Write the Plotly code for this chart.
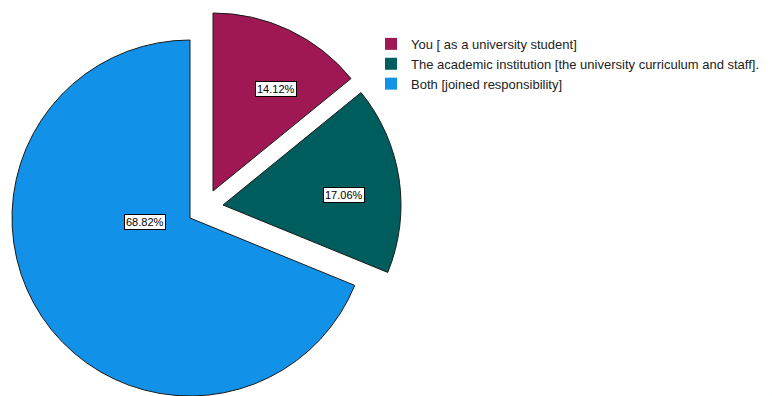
import math
import plotly.graph_objects as go

# ---- data ----
labels = [
    "You [ as a university student]",
    "The academic institution [the university curriculum and staff].",
    "Both [joined responsibility]",
]
values = [14.12, 17.06, 68.82]
value_text = ["14.12%", "17.06%", "68.82%"]

# ---- style ----
colors = ["#9f1853", "#005d5d", "#1192e8"]
W, H = 772, 396
R = 178                 # pie radius in px
CX, CY = 190, 218       # pie centre in px
explode = [(23, -27), (33, -13), (0, 0)]          # per-slice explode offset (px)
label_place = [(0.66, 4.4), (0.68, -3.7), (0.37, -30.0)]  # radial frac, angle nudge (deg)
FONT = "Liberation Sans, Arial, sans-serif"

total = sum(values)
fig = go.Figure()

# legend carrier (tiny, invisible pie holding the correct colours)
fig.add_trace(go.Pie(
    labels=labels, values=values, sort=False, direction="clockwise",
    marker=dict(colors=colors, line=dict(color="#1a1a1a", width=0)),
    textinfo="none", hoverinfo="skip",
    domain=dict(x=[0.9995, 1.0], y=[0.0, 0.0005]),
    showlegend=True,
))

annotations = []
start = 90.0
for i, v in enumerate(values):
    dx, dy = explode[i]
    cx, cy = CX + dx, CY + dy
    cols = ["rgba(0,0,0,0)"] * len(values)
    cols[i] = colors[i]
    lw = [0] * len(values)
    lw[i] = 1
    fig.add_trace(go.Pie(
        labels=labels, values=values, sort=False, direction="clockwise",
        rotation=0,
        marker=dict(colors=cols, line=dict(color="#1a1a1a", width=lw)),
        textinfo="none", hoverinfo="skip", showlegend=False,
        domain=dict(x=[(cx - R) / W, (cx + R) / W],
                    y=[max(0.0, 1 - (cy + R) / H), min(1.0, 1 - (cy - R) / H)]),
    ))
    span = 360.0 * v / total
    mid = start - span / 2
    start -= span
    frac, nudge = label_place[i]
    a = math.radians(mid + nudge)
    lx = cx + frac * R * math.cos(a)
    ly = cy - frac * R * math.sin(a)
    annotations.append(dict(
        x=lx / W, y=1 - ly / H, xref="paper", yref="paper",
        text=value_text[i], showarrow=False,
        font=dict(family=FONT, size=11, color="#000000"),
        bgcolor="#ffffff", bordercolor="#000000", borderwidth=1, borderpad=1,
    ))

fig.update_layout(
    width=W, height=H,
    margin=dict(l=0, r=0, t=0, b=0),
    paper_bgcolor="#ffffff", plot_bgcolor="#ffffff",
    annotations=annotations,
    legend=dict(
        x=0.4806, y=0.927, xanchor="left", yanchor="top",
        font=dict(family=FONT, size=13, color="#222222"),
        bgcolor="rgba(0,0,0,0)", tracegroupgap=0,
    ),
)

fig.write_html("out.html")
